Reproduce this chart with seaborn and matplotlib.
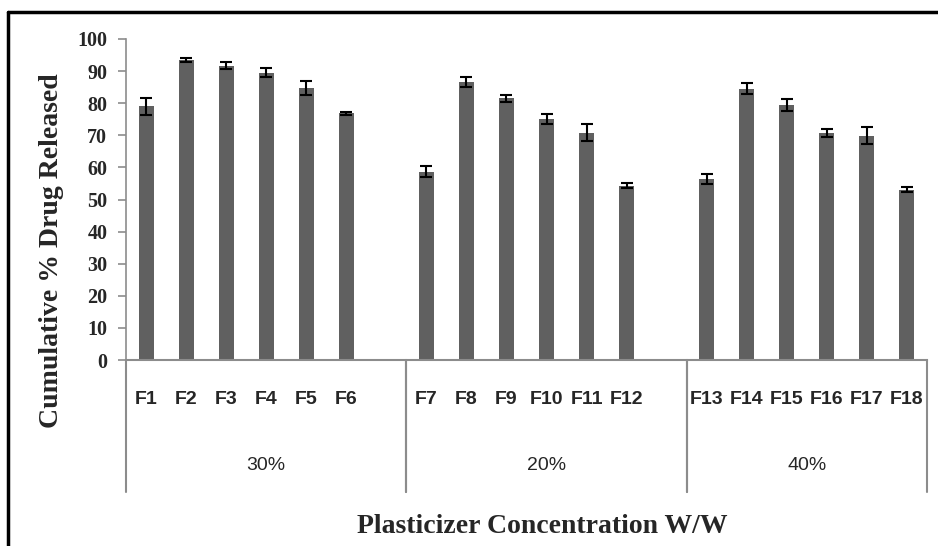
import matplotlib
matplotlib.use("Agg")
import matplotlib.pyplot as plt
import matplotlib.transforms as mtransforms
from matplotlib.lines import Line2D
import pandas as pd
import seaborn as sns

# Formulations, grouped by plasticizer concentration
groups = ["30%", "20%", "40%"]
formulations = [
    ["F1", "F2", "F3", "F4", "F5", "F6"],
    ["F7", "F8", "F9", "F10", "F11", "F12"],
    ["F13", "F14", "F15", "F16", "F17", "F18"],
]
release = [79.0, 93.5, 91.7, 89.5, 84.7, 76.9,
           58.7, 86.6, 81.5, 75.0, 70.8, 54.3,
           56.4, 84.5, 79.4, 70.8, 69.9, 53.1]
sd = [2.7, 0.6, 1.0, 1.4, 2.2, 0.5,
      1.8, 1.6, 1.1, 1.6, 2.6, 0.8,
      1.45, 1.7, 1.9, 1.25, 2.6, 0.8]
yticks = list(range(0, 101, 10))

labels = [f for g in formulations for f in g]
df = pd.DataFrame({"formulation": labels, "release": release, "sd": sd})

# category order with an empty slot after each group except the last
order = []
for i, g in enumerate(formulations):
    order += g
    if i < len(formulations) - 1:
        order.append(" " * (i + 1))

sns.set_style("white")
plt.rcParams["font.family"] = ["Liberation Serif", "DejaVu Serif"]

W, H = 938, 546
fig = plt.figure(figsize=(W / 100, H / 100), dpi=100)
ax = fig.add_axes([126 / W, 1 - 360 / H, (927 - 126) / W, (360 - 39) / H])

sns.barplot(data=df, x="formulation", y="release", order=order,
            color="#606060", saturation=1, width=0.375, errorbar=None,
            linewidth=0, ax=ax)
pos = [order.index(f) for f in labels]
ax.errorbar(pos, df["release"], yerr=df["sd"], fmt="none", ecolor="black",
            elinewidth=1.5, capsize=4, capthick=1.5, zorder=5)

ax.set_xlim(-0.5, len(order) - 0.5)
ax.set_ylim(0, 100)
ax.set_yticks(yticks)
ax.set_xlabel("")
ax.set_ylabel("")

grey = "#8c8c8c"
for s in ("top", "right"):
    ax.spines[s].set_visible(False)
ax.spines["left"].set_color(grey)
ax.spines["left"].set_linewidth(1.2)
ax.spines["bottom"].set_color(grey)
ax.spines["bottom"].set_linewidth(1.5)

ax.tick_params(axis="y", direction="out", length=5.5, width=1.2, color=grey,
               pad=8, left=True)
for t in ax.get_yticklabels():
    t.set_fontfamily(["Liberation Serif", "DejaVu Serif"])
    t.set_fontweight("bold")
    t.set_fontsize(14.5)

ax.tick_params(axis="x", length=0, pad=22)
ax.set_xticks(range(len(order)))
ax.set_xticklabels(order, fontfamily=["Liberation Sans Narrow", "Liberation Sans"],
                   fontweight="bold", fontsize=14, va="top")

# multi-level category axis: group dividers and group names
trans = mtransforms.blended_transform_factory(ax.transData, ax.transAxes)
depth = -(492 - 360) / (360 - 39)
start = -0.5
for i, g in enumerate(formulations):
    n = len(g) + (1 if i < len(formulations) - 1 else 0)
    end = start + n
    center = start + (len(g) - 1) / 2 + 0.5
    ax.text(start + n / 2, -(465 - 360) / (360 - 39), groups[i], transform=trans,
            ha="center", va="center", fontsize=14,
            fontfamily=["Liberation Sans Narrow", "Liberation Sans"])
    for xb in (start, end):
        ax.add_line(Line2D([xb, xb], [0, depth], transform=trans, color=grey,
                           lw=1.5, clip_on=False))
    start = end

fig.text(542 / W, 1 - 533 / H, "Plasticizer Concentration W/W", ha="center",
         va="baseline", fontsize=20, fontweight="bold",
         fontfamily=["Liberation Serif", "DejaVu Serif"])
fig.text(51 / W, 1 - 251 / H, "Cumulative % Drug Released", ha="center",
         va="center", rotation=90, fontsize=20, fontweight="bold",
         fontfamily=["Liberation Serif", "DejaVu Serif"])

# outer frame (top and left edges)
fig.add_artist(Line2D([8 / W, 1.0], [1 - 12 / H, 1 - 12 / H], transform=fig.transFigure,
                      color="black", lw=2.5))
fig.add_artist(Line2D([8 / W, 8 / W], [0, 1 - 12 / H], transform=fig.transFigure,
                      color="black", lw=2.5))

fig.savefig("out.png", dpi=100)
